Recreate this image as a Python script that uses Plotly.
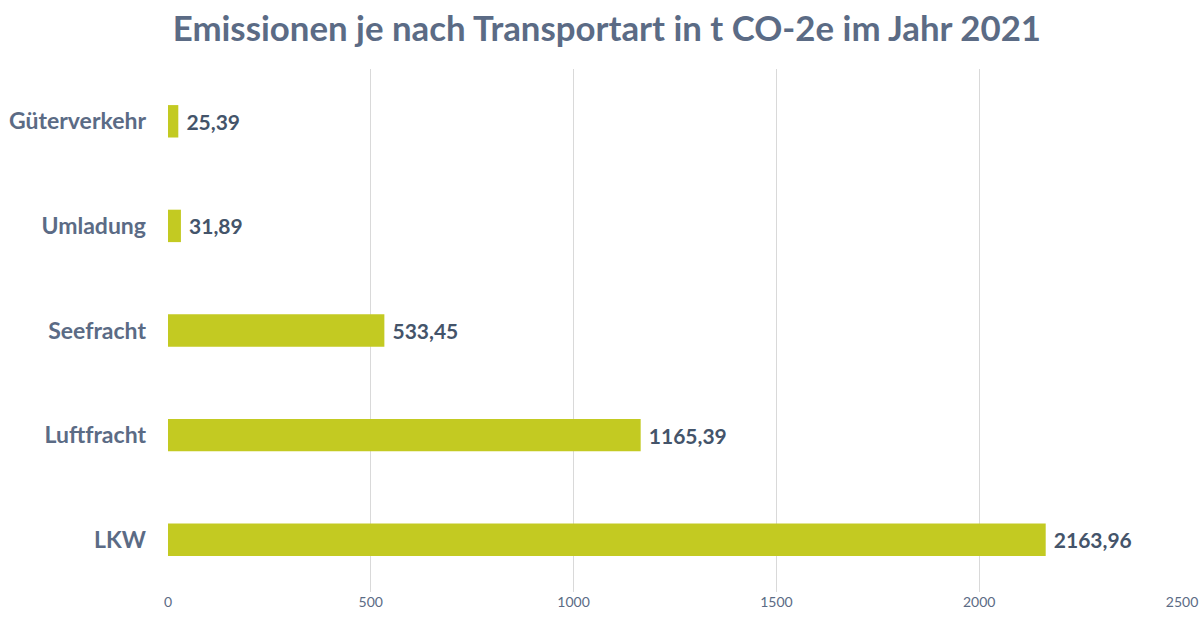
import plotly.graph_objects as go

categories = ["LKW", "Luftfracht", "Seefracht", "Umladung", "Güterverkehr"]
values = [2163.96, 1165.39, 533.45, 31.89, 25.39]
x_ticks = [0, 500, 1000, 1500, 2000, 2500]

fig = go.Figure(go.Bar(
    x=values, y=categories, orientation="h",
    marker=dict(color="#c3ca22", line=dict(width=0)),
    width=0.31,
    texttemplate=" %{x:.2f}", textposition="outside", cliponaxis=False,
    textfont=dict(family="Lato", size=21, color="#44546a", weight="bold"),
))

fig.update_layout(
    width=1203, height=618,
    separators=",.",
    paper_bgcolor="white", plot_bgcolor="white",
    margin=dict(l=168, r=21, t=69, b=26),
    title=dict(text="<b>Emissionen je nach Transportart in t CO-2e im Jahr 2021</b>",
               x=0.5045, xanchor="center", y=0.953, yanchor="middle",
               font=dict(family="Lato", size=34.8, color="#5b6b85")),
    showlegend=False,
    xaxis=dict(range=[0, 2500], tickvals=x_ticks, showgrid=True, gridcolor="#d9d9d9",
               gridwidth=1, zeroline=False, showline=False, automargin=False,
               tickfont=dict(family="Lato", size=14, color="#5b6b85")),
    yaxis=dict(showgrid=False, zeroline=False, showline=False, ticklabelstandoff=21,
               automargin=False,
               tickfont=dict(family="Lato", size=23, color="#5b6b85", weight="bold")),
)

fig.write_html("out.html", config={"displayModeBar": False},
               post_script="document.body.style.margin='0';document.body.style.overflow='hidden';")
